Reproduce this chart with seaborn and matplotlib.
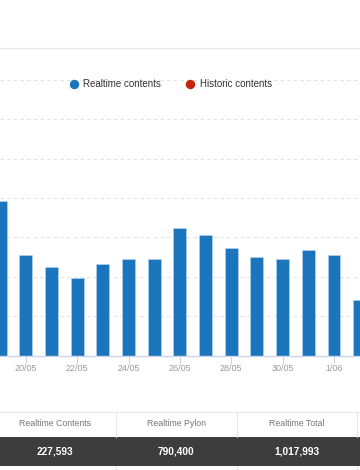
import matplotlib
matplotlib.use("Agg")
import matplotlib.pyplot as plt
import seaborn as sns
import pandas as pd
from matplotlib.lines import Line2D
from matplotlib.patches import Rectangle

# ---- data ----
dates = ["19/05", "20/05", "21/05", "22/05", "23/05", "24/05", "25/05", "26/05",
         "27/05", "28/05", "29/05", "30/05", "31/05", "1/06", "2/06"]
realtime_contents = [19650, 12750, 11200, 9800, 11650, 12300, 12250, 16200,
                     15350, 13650, 12550, 12300, 13350, 12800, 7050]
series_names = ["Realtime contents", "Historic contents"]
table_headers = ["Realtime Contents", "Realtime Pylon", "Realtime Total"]
table_values = [227593, 790400, 1017993]

BLUE = "#1b75bc"
RED = "#c4250f"

sns.set_theme(style="white")
plt.rcParams["font.family"] = ["Liberation Sans", "DejaVu Sans"]

W, H = 360, 470
fig = plt.figure(figsize=(W / 100, H / 100), dpi=100)

def fy(py):
    return 1 - py / H

base_py, top_py = 355.5, 80.0
ax = fig.add_axes([0, fy(base_py), 1, (base_py - top_py) / H])

df = pd.DataFrame({"date": dates, "value": realtime_contents})
sns.barplot(data=df, x="date", y="value", color=BLUE, saturation=1, width=0.5,
            edgecolor="#b9d6ee", linewidth=0.4, ax=ax)

ax.set_ylim(0, 35000)
ax.set_xlim(-0.008, 14.016)
ax.set_yticks(range(0, 35001, 5000))
ax.yaxis.grid(True, linestyle=(0, (3, 3)), color="#e3e3e3", linewidth=0.8)
ax.set_axisbelow(True)
ax.tick_params(axis="y", left=False, labelleft=False)
ax.set_xticks(range(1, len(dates), 2))
ax.set_xticklabels(dates[1::2])
ax.tick_params(axis="x", bottom=True, length=5, width=0.8, color="#ccd6eb",
               labelcolor="#9a9a9a", labelsize=6.5, pad=1)
ax.set_xlabel("")
ax.set_ylabel("")
for s in ["top", "left", "right"]:
    ax.spines[s].set_visible(False)
ax.spines["bottom"].set_color("#ccd6eb")
ax.spines["bottom"].set_linewidth(1.0)

# legend
handles = [Line2D([], [], marker="o", linestyle="", markersize=5.8, color=c)
           for c in (BLUE, RED)]
fig.legend(handles, series_names, loc="center", bbox_to_anchor=(0.4735, fy(84.3)),
           ncol=2, frameon=False, fontsize=7, handletextpad=0.5,
           columnspacing=2.5, handlelength=1.0, labelcolor="#333333",
           borderaxespad=0, borderpad=0)

# top separator line
fig.add_artist(Line2D([0, 1], [fy(47.5), fy(47.5)], color="#e8e8e8", lw=1.0,
                      transform=fig.transFigure))

# table
fig.add_artist(Line2D([0, 1], [fy(411.7), fy(411.7)], color="#e6e6e6", lw=0.8,
                      transform=fig.transFigure))
fig.add_artist(Rectangle((0, fy(465.7)), 1, (465.7 - 436.7) / H,
                         facecolor="#3d3d3d", edgecolor="none",
                         transform=fig.transFigure))
col_edges = [-5.3, 115.7, 236.7, 357.3]
for xe in col_edges[1:]:
    fig.add_artist(Line2D([xe / W, xe / W], [fy(411.7), fy(436.7)],
                          color="#e6e6e6", lw=0.8, transform=fig.transFigure))
    fig.add_artist(Line2D([xe / W, xe / W], [fy(465.7), 0],
                          color="#e6e6e6", lw=0.8, transform=fig.transFigure))
for i, (h, v) in enumerate(zip(table_headers, table_values)):
    cx = (col_edges[i] + col_edges[i + 1]) / 2 / W
    fig.text(cx, fy(424), h, ha="center", va="center", fontsize=6.3,
             color="#777777")
    fig.text(cx, fy(451), f"{v:,}", ha="center", va="center", fontsize=7.3,
             color="white", fontweight="bold")

fig.savefig("out.png", dpi=100)
